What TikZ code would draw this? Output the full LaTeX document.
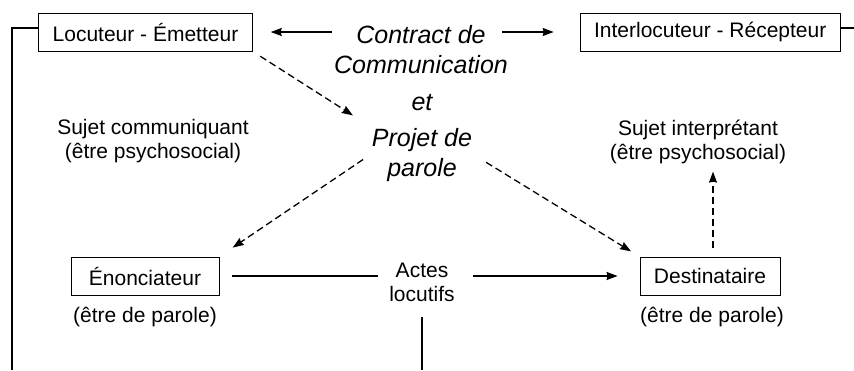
\documentclass[tikz,border=0pt]{standalone}
\usepackage{fontspec}
\setmainfont{Liberation Sans}
\usetikzlibrary{arrows.meta, calc, positioning}
\tikzstyle{actor} = [rectangle, draw=black, line width=0.8pt, minimum height=38pt,
inner xsep=14pt, font=\fontsize{21}{24}\selectfont]
\tikzstyle{note} = [align=center, inner sep=2pt, font=\fontsize{21}{24}\selectfont]
\tikzstyle{pact} = [align=center, inner sep=2pt, font=\fontsize{25}{30}\selectfont\itshape]
\tikzstyle{arrow} = [line width=1.5pt,->,>={Stealth[length=11pt,width=8pt,inset=1pt]}]
\tikzstyle{dasharrow} = [line width=1.3pt, dash pattern=on 7pt off 4pt,->,
>={Stealth[length=11pt,width=8pt,inset=1pt]}]
\tikzstyle{wire} = [line width=1.8pt]

\begin{document}
\begin{tikzpicture}[x=1pt, y=-1pt]
      \useasboundingbox (0,0) rectangle (854,370);
      \node (loc) [actor] at (145.5,32) {Locuteur - Émetteur};
      \node (int) [actor, right=327pt of loc] {Interlocuteur - Récepteur};

      \node (ct) [pact] at (421,50) {Contract de \\ Communication};
      \node (et) [pact] at (422,103) {et};
      \node (pp) [pact] at (422,155) {Projet de \\ parole};

      \node (sc) [note] at (153,141.5) {Sujet communiquant \\ (être psychosocial)};
      \node (si) [note] at (698,141.5) {Sujet interprétant \\ (être psychosocial)};

      \node (enon) [actor, minimum width=148pt] at (145,276) {Énonciateur};
      \node (dest) [actor] at (710,276) {Destinataire};
      \node (ep1) [note, below=10pt of enon] {(être de parole)};
      \node (ep2) [note, below=10pt of dest, xshift=2pt] {(être de parole)};
      \node (al) [note] at (422,282.5) {Actes \\ locutifs};

      \coordinate (lb) at (12,370);
      \coordinate (rb) at (854,28);
      \coordinate (ab) at (422,370);

      % contract in both directions
      \draw [arrow, yshift=-3pt, shorten >=18pt] (ct.west |- loc.east) -- (loc.east);
      \draw [arrow, yshift=-3pt, shorten <=-8pt, shorten >=26pt] (ct.east |- int.west) -- (int.west);

      % dashed links through the speech project
      \draw [dasharrow, shorten <=9pt, shorten >=20pt] (loc.south east) -- (pp.north west);
      \draw [dasharrow, shorten <=8pt, shorten >=16pt] (pp.west) -- (enon.north east);
      \draw [dasharrow, shorten <=14pt, shorten >=10pt] (pp.east) -- (dest.north west);
      \draw [dasharrow, shorten <=9pt, shorten >=6pt] ([xshift=3pt]dest.north) -- ([xshift=3pt]dest.north |- si.south);

      % acts
      \draw [wire, yshift=-1pt, shorten <=13pt, shorten >=9pt] (enon.east) -- (enon.east -| al.west);
      \draw [arrow, yshift=-2pt, shorten <=16pt, shorten >=22pt] (al.east |- dest.west) -- (dest.west);
      \draw [wire, shorten <=13pt] (al.south) -- (ab);

      % outer frame
      \draw [wire] ([yshift=4pt]loc.west) -| (lb);
      \draw [wire] ([yshift=4pt]int.east) -- (rb);
    \end{tikzpicture}
\end{document}
